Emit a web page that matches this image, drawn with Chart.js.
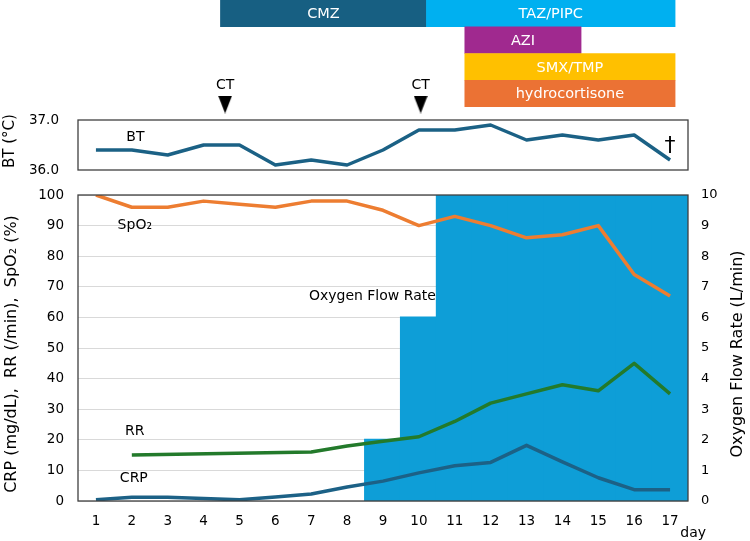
<!DOCTYPE html>
<html>
<head>
<meta charset="utf-8">
<script src="https://cdn.jsdelivr.net/npm/chart.js@4.4.0/dist/chart.umd.min.js"></script>
<style>
  body { margin: 0; background: #fff; }
  #wrap { position: relative; width: 750px; height: 541px; overflow: hidden; }
  #wrap canvas { position: absolute; left: 0; }
</style>
</head>
<body>
<div id="wrap">
  <canvas id="mainChart" width="750" height="361" style="top:180px"></canvas>
  <canvas id="btChart" width="750" height="120" style="top:60px"></canvas>
  <canvas id="drugChart" width="750" height="107" style="top:0px"></canvas>
</div>
<script>
// data
const days = ['1', '2', '3', '4', '5', '6', '7', '8', '9', '10', '11', '12', '13', '14', '15', '16', '17'];
const bt = [36.4, 36.4, 36.3, 36.5, 36.5, 36.1, 36.2, 36.1, 36.4, 36.8, 36.8, 36.9, 36.6, 36.7, 36.6, 36.7, 36.2];
const spo2 = [100, 96, 96, 98, 97, 96, 98, 98, 95, 90, 93, 90, 86, 87, 90, 74, 67];
const rr = [null, 15, null, null, null, null, 16, 18, 19.5, 21, 26, 32, 35, 38, 36, 45, 35];
const crp = [0.4, 1.2, 1.2, 0.8, 0.4, 1.3, 2.3, 4.6, 6.5, 9.2, 11.5, 12.6, 18.2, 12.8, 7.6, 3.7, 3.7];
const oxygen = [null, null, null, null, null, null, null, null, 2, 6, 10, 10, 10, 10, 10, 10, 10];

const drugNames = ['CMZ', 'TAZ/PIPC', 'AZI', 'SMX/TMP', 'hydrocortisone'];
const drugStart = [4.47, 10.21, 11.28, 11.28, 11.28];
const drugEnd = [10.21, 17.14, 14.52, 17.14, 17.14];
const drugRow = ['r0', 'r0', 'r1', 'r2', 'r3'];
const drugColors = ['#175F82', '#00B0F0', '#A0298F', '#FFC000', '#EB7234'];

const ctDays = [4.6, 10.05];
const ctLevel = 37.31;

const btTicks = [36, 37];
const leftTicks = [0, 10, 20, 30, 40, 50, 60, 70, 80, 90, 100];
const rightTicks = [0, 1, 2, 3, 4, 5, 6, 7, 8, 9, 10];

Chart.defaults.font.family = '"DejaVu Sans", Verdana, sans-serif';
Chart.defaults.color = '#000';
Chart.defaults.animation = false;
Chart.defaults.plugins.legend.display = false;
Chart.defaults.plugins.tooltip.enabled = false;

const FONT = '"DejaVu Sans", Verdana, sans-serif';
const AXIS_LEFT = 78;
const AXIS_RIGHT = 62;
const BOX = '#404040';

// keep the tick padding from pushing the plot area around
function fixWidth(w) {
    return s => { s.width = w; s.paddingTop = 0; s.paddingBottom = 0; };
}

function verticalText(ctx, text, x, y, size) {
    ctx.save();
    ctx.fillStyle = '#000';
    ctx.font = size + 'px ' + FONT;
    ctx.textAlign = 'center';
    ctx.textBaseline = 'middle';
    ctx.translate(x, y);
    ctx.rotate(-Math.PI / 2);
    ctx.fillText(text, 0, 0);
    ctx.restore();
}

// ---- treatments -----------------------------------------------------------
const drugLabels = {
    id: 'drugLabels',
    afterDatasetsDraw(chart) {
        const ctx = chart.ctx;
        const meta = chart.getDatasetMeta(0);
        ctx.save();
        ctx.fillStyle = '#fff';
        ctx.font = '14.5px ' + FONT;
        ctx.textAlign = 'center';
        ctx.textBaseline = 'middle';
        meta.data.forEach((bar, i) => {
            ctx.fillText(drugNames[i], (bar.x + bar.base) / 2, bar.y + 1);
        });
        ctx.restore();
    }
};

new Chart(document.getElementById('drugChart'), {
    type: 'bar',
    data: {
        labels: ['r0', 'r1', 'r2', 'r3'],
        datasets: [{
            data: drugNames.map((n, i) => ({ x: [drugStart[i], drugEnd[i]], y: drugRow[i] })),
            backgroundColor: drugColors,
            barPercentage: 1,
            categoryPercentage: 1,
            borderWidth: 0
        }]
    },
    options: {
        indexAxis: 'y',
        responsive: false,
        layout: { padding: { left: AXIS_LEFT, right: AXIS_RIGHT, top: 0, bottom: 0 } },
        scales: {
            x: { type: 'linear', min: 0.5, max: 17.5, display: false },
            y: { display: false }
        }
    },
    plugins: [drugLabels]
});

// ---- body temperature -----------------------------------------------------
const triangle = document.createElement('canvas');
triangle.width = 14;
triangle.height = 18;
(function () {
    const c = triangle.getContext('2d');
    c.fillStyle = '#000';
    c.beginPath();
    c.moveTo(0, 0);
    c.lineTo(14, 0);
    c.lineTo(7, 18);
    c.closePath();
    c.fill();
})();

const btExtras = {
    id: 'btExtras',
    beforeDatasetsDraw(chart) {
        const { ctx, chartArea: a, scales: { y } } = chart;
        const top = y.getPixelForValue(37);
        const bottom = y.getPixelForValue(36);
        ctx.save();
        ctx.strokeStyle = BOX;
        ctx.lineWidth = 1.3;
        ctx.strokeRect(a.left, top, a.right - a.left, bottom - top);
        ctx.restore();
        verticalText(ctx, 'BT (\u00B0C)', 10, (top + bottom) / 2 - 4, 15);
    },
    afterDatasetsDraw(chart) {
        const { ctx, scales: { x, y } } = chart;
        ctx.save();
        ctx.fillStyle = '#000';
        ctx.textAlign = 'center';
        ctx.textBaseline = 'middle';
        ctx.font = '14px ' + FONT;
        ctDays.forEach(d => ctx.fillText('CT', x.getPixelForValue(d), y.getPixelForValue(37.7)));
        ctx.fillText('BT', x.getPixelForValue(2.1), y.getPixelForValue(36.66));
        ctx.font = '22px ' + FONT;
        ctx.fillText('\u2020', x.getPixelForValue(17), y.getPixelForValue(36.48));
        ctx.restore();
    }
};

new Chart(document.getElementById('btChart'), {
    type: 'line',
    data: {
        datasets: [{
            data: bt.map((v, i) => ({ x: i + 1, y: v })),
            borderColor: '#1B6185',
            borderWidth: 3.5,
            borderJoinStyle: 'round',
            pointRadius: 0,
            tension: 0
        }, {
            data: ctDays.map(d => ({ x: d, y: ctLevel })),
            showLine: false,
            pointStyle: triangle,
            pointRadius: 9,
            clip: false
        }]
    },
    options: {
        responsive: false,
        layout: { padding: { left: 0, right: AXIS_RIGHT, top: 20, bottom: 10 } },
        scales: {
            x: { type: 'linear', min: 0.5, max: 17.5, display: false },
            y: {
                min: 36,
                max: 37.8,
                afterFit: fixWidth(AXIS_LEFT),
                afterBuildTicks: s => { s.ticks = btTicks.map(v => ({ value: v })); },
                grid: { display: false, drawTicks: false },
                border: { display: false },
                ticks: { padding: 19, font: { size: 13.5 }, callback: v => v.toFixed(1) }
            }
        }
    },
    plugins: [btExtras]
});

// ---- main chart -----------------------------------------------------------
const mainExtras = {
    id: 'mainExtras',
    afterDatasetsDraw(chart) {
        const { ctx, chartArea: a, scales: { x, y } } = chart;
        ctx.save();
        ctx.strokeStyle = BOX;
        ctx.lineWidth = 1.3;
        ctx.strokeRect(a.left, a.top, a.right - a.left, a.bottom - a.top);

        ctx.fillStyle = '#000';
        ctx.font = '14px ' + FONT;
        ctx.textBaseline = 'middle';
        ctx.textAlign = 'center';
        ctx.fillText('SpO\u2082', x.getPixelForValue(1) + 3, y.getPixelForValue(90.2));
        ctx.fillText('RR', x.getPixelForValue(1) + 3, y.getPixelForValue(22.9));
        ctx.fillText('CRP', x.getPixelForValue(1) + 2, y.getPixelForValue(7.5));

        ctx.textAlign = 'right';
        const half = (x.getPixelForValue(1) - x.getPixelForValue(0)) / 2;
        ctx.fillText('Oxygen Flow Rate', x.getPixelForValue(9) + half - 1, y.getPixelForValue(66.8));
        ctx.fillText('day', 706, a.bottom + 32);
        ctx.restore();

        const mid = (a.top + a.bottom) / 2;
        verticalText(ctx, 'CRP (mg/dL),  RR (/min),  SpO\u2082 (%)', 12, mid + 6, 16);
        verticalText(ctx, 'Oxygen Flow Rate (L/min)', 738, mid + 6, 16);
    }
};

new Chart(document.getElementById('mainChart'), {
    data: {
        labels: days,
        datasets: [{
            type: 'line',
            data: spo2,
            borderColor: '#ED7D31',
            borderWidth: 3.5,
            borderJoinStyle: 'round',
            pointRadius: 0,
            tension: 0,
            order: 1
        }, {
            type: 'line',
            data: rr,
            borderColor: '#237A2B',
            borderWidth: 3.5,
            borderJoinStyle: 'round',
            pointRadius: 0,
            tension: 0,
            spanGaps: true,
            order: 2
        }, {
            type: 'line',
            data: crp,
            borderColor: '#1C6186',
            borderWidth: 3.5,
            borderJoinStyle: 'round',
            pointRadius: 0,
            tension: 0,
            order: 3
        }, {
            type: 'bar',
            data: oxygen,
            yAxisID: 'y2',
            backgroundColor: '#0E9ED7',
            borderWidth: 0,
            inflateAmount: 1,
            barPercentage: 1,
            categoryPercentage: 1,
            order: 10
        }]
    },
    options: {
        responsive: false,
        layout: { padding: { left: 0, right: 0, top: 15, bottom: 0 } },
        scales: {
            x: {
                offset: true,
                afterFit: s => { s.height = 40; },
                grid: { display: false, drawTicks: false },
                border: { display: false },
                ticks: { padding: 12, font: { size: 13.5 }, maxRotation: 0, autoSkip: false }
            },
            y: {
                position: 'left',
                min: 0,
                max: 100,
                afterFit: fixWidth(AXIS_LEFT),
                afterBuildTicks: s => { s.ticks = leftTicks.map(v => ({ value: v })); },
                grid: { color: '#D9D9D9', lineWidth: 1, drawTicks: false },
                border: { display: false },
                ticks: { padding: 14, font: { size: 13.5 } }
            },
            y2: {
                position: 'right',
                min: 0,
                max: 10,
                afterFit: fixWidth(AXIS_RIGHT),
                afterBuildTicks: s => { s.ticks = rightTicks.map(v => ({ value: v })); },
                grid: { display: false, drawTicks: false },
                border: { display: false },
                ticks: { padding: 13, font: { size: 13 } }
            }
        }
    },
    plugins: [mainExtras]
});
</script>
</body>
</html>
